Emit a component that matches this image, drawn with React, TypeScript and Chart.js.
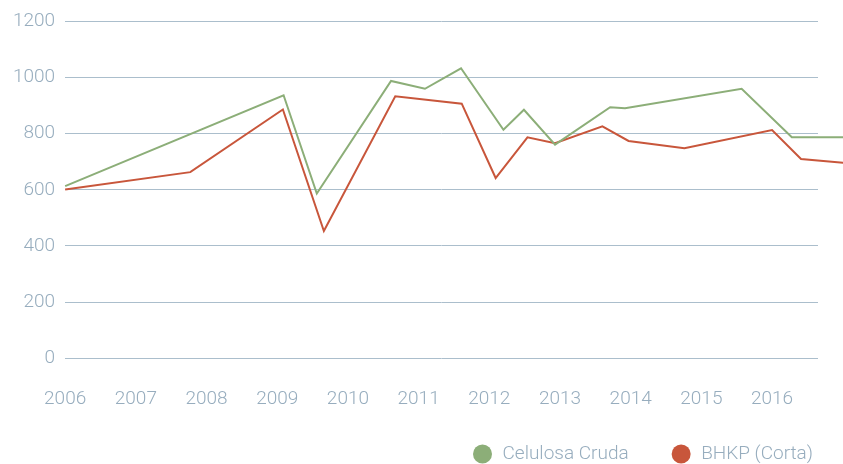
import React, { useEffect, useRef } from "react";
import { Chart, registerables } from "chart.js";

Chart.register(...registerables);

const SERIES_NAMES = ["Celulosa Cruda", "BHKP (Corta)"];
const SERIES_COLORS = ["#8cae78", "#c8563b"];

const YEAR_TICKS = [2006, 2007, 2008, 2009, 2010, 2011, 2012, 2013, 2014, 2015, 2016];
const Y_TICKS = [0, 200, 400, 600, 800, 1000, 1200];

const celulosaYears = [2006.0, 2009.09, 2009.56, 2010.61, 2011.09, 2011.6, 2012.2, 2012.49, 2012.93, 2013.71, 2013.92, 2015.57, 2016.28, 2017.02];
const celulosaValues = [613, 937, 587, 988, 960, 1033, 814, 885, 761, 894, 891, 960, 787, 787];

const bhkpYears = [2006.0, 2007.77, 2009.08, 2009.66, 2010.67, 2011.61, 2012.09, 2012.54, 2012.93, 2013.6, 2013.97, 2014.76, 2016.0, 2016.41, 2017.02];
const bhkpValues = [601, 663, 886, 453, 933, 907, 642, 787, 766, 826, 774, 748, 813, 710, 696];

const TEXT_COLOR = "#97adbe";
const GRID_COLOR = "#abbecc";
const FONT_FAMILY = "Roboto, 'Noto Sans', sans-serif";

const legendPlugin = {
  id: "customLegend",
  afterDraw(chart: any) {
    const ctx = chart.ctx;
    const fontSize = 19;
    ctx.save();
    ctx.font = `300 ${fontSize}px ${FONT_FAMILY}`;
    ctx.textBaseline = "middle";
    ctx.textAlign = "left";
    const cy = chart.height - 10;
    const radius = 9.5;
    const textGap = 20;
    const itemGap = 43;
    let right = 813;
    const items = chart.data.datasets.map((d: any) => ({ label: d.label, color: d.borderColor }));
    for (let i = items.length - 1; i >= 0; i--) {
      const it = items[i];
      const w = ctx.measureText(it.label).width;
      const tx = right - w;
      const cx = tx - textGap;
      ctx.fillStyle = it.color;
      ctx.beginPath();
      ctx.arc(cx, cy, radius, 0, Math.PI * 2);
      ctx.fill();
      ctx.fillStyle = TEXT_COLOR;
      ctx.fillText(it.label, tx, cy);
      right = cx - radius - itemGap;
    }
    ctx.restore();
  },
};

export default function App() {
  const ref = useRef<HTMLCanvasElement | null>(null);
  useEffect(() => {
    if (!ref.current) return;
    const toPoints = (xs: number[], ys: number[]) => xs.map((x, i) => ({ x, y: ys[i] }));
    const chart = new Chart(ref.current, {
      type: "line",
      data: {
        datasets: [
          {
            label: SERIES_NAMES[0],
            data: toPoints(celulosaYears, celulosaValues),
            borderColor: SERIES_COLORS[0],
            backgroundColor: SERIES_COLORS[0],
            borderWidth: 2,
            pointRadius: 0,
            tension: 0,
            clip: false as any,
          },
          {
            label: SERIES_NAMES[1],
            data: toPoints(bhkpYears, bhkpValues),
            borderColor: SERIES_COLORS[1],
            backgroundColor: SERIES_COLORS[1],
            borderWidth: 2,
            pointRadius: 0,
            tension: 0,
            clip: false as any,
          },
        ],
      },
      options: {
        animation: false,
        responsive: true,
        maintainAspectRatio: false,
        layout: { padding: { top: 20, right: 25, bottom: 23, left: 3 } },
        plugins: {
          legend: { display: false },
          tooltip: { enabled: false },
        },
        scales: {
          x: {
            type: "linear",
            min: 2006,
            max: 2016.65,
            grid: { display: false, drawTicks: false },
            border: { display: false },
            afterBuildTicks: (s: any) => {
              s.ticks = YEAR_TICKS.map((v) => ({ value: v }));
            },
            ticks: {
              autoSkip: false,
              maxRotation: 0,
              padding: 30,
              color: TEXT_COLOR,
              font: { family: FONT_FAMILY, size: 19, weight: "300" as any },
              callback: (v: any) => String(v),
            },
          },
          y: {
            min: 0,
            max: 1200,
            grid: { color: GRID_COLOR, lineWidth: 1, drawTicks: false },
            border: { display: false },
            afterBuildTicks: (s: any) => {
              s.ticks = Y_TICKS.map((v) => ({ value: v }));
            },
            ticks: {
              padding: 10,
              color: TEXT_COLOR,
              font: { family: FONT_FAMILY, size: 19, weight: "300" as any },
              callback: (v: any) => String(v),
            },
          },
        },
      },
      plugins: [legendPlugin],
    });
    return () => chart.destroy();
  }, []);
  return (
    <div style={{ position: "absolute", left: 0, top: 0, width: 843, height: 464, background: "#fff" }}>
      <canvas ref={ref} />
    </div>
  );
}
